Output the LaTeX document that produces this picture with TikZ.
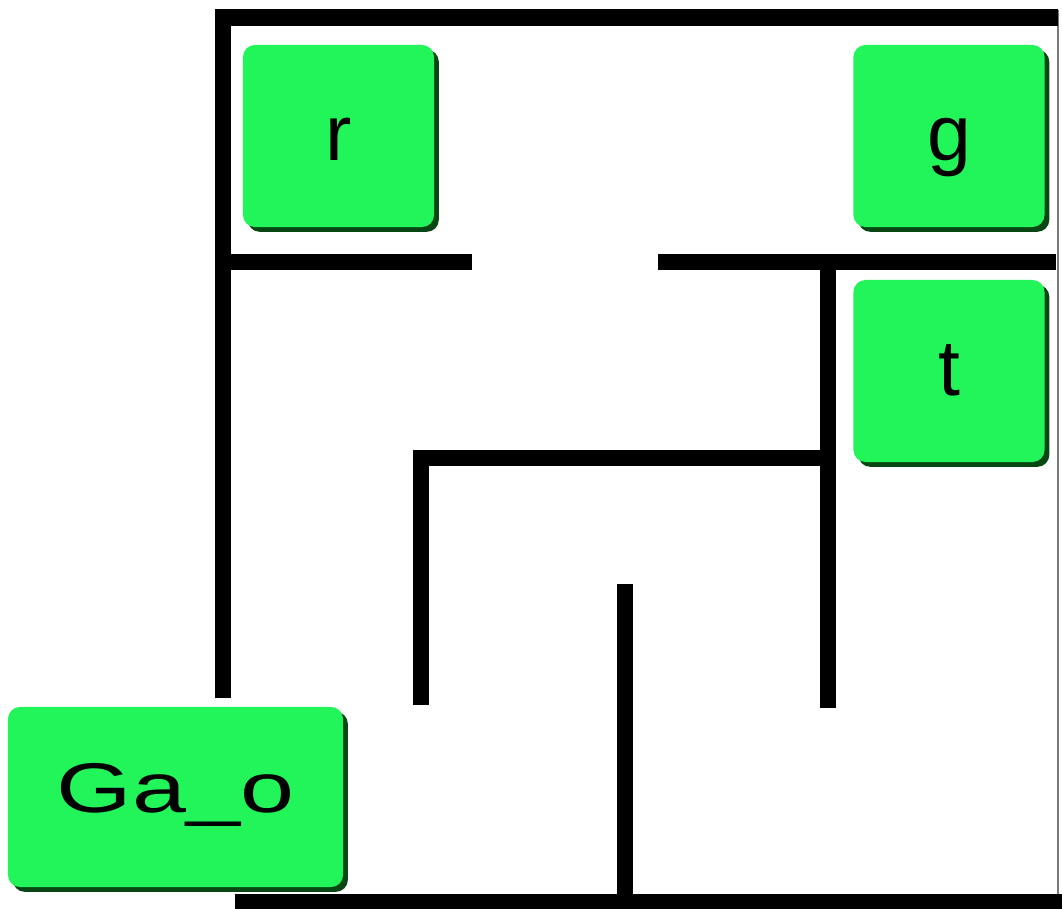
\documentclass[tikz,border=0pt]{standalone}
\usepackage{fontspec}
\setmainfont{Liberation Sans}
\usepackage{xcolor}
\usetikzlibrary{shadows}
\definecolor{boxgreen}{RGB}{34,245,90}
\definecolor{boxshadow}{RGB}{8,70,20}
\definecolor{edgegray}{RGB}{120,120,120}

\tikzset{
  wall/.style={line width=0.4cm, line join=miter, line cap=butt},
  room/.style={draw=none, fill=boxgreen, rounded corners=0.3cm, inner sep=0pt,
               minimum width=4.775cm, minimum height=4.55cm,
               text height=1.2cm, text depth=0pt,
               drop shadow={shadow xshift=0.12cm, shadow yshift=-0.12cm, fill=boxshadow, opacity=1},
               font=\fontsize{56}{60}\selectfont}
}

\begin{document}
\begin{tikzpicture}[x=0.025cm, y=-0.025cm]
  \useasboundingbox[fill=white] (0,0) rectangle (1062,908);

  % outer walls
  \draw[edgegray, line width=0.05cm] (1058,10) -- (1058,908);
  \draw[wall] (223,698) -- (223,17.5) -- (1058,17.5);
  \draw[wall] (235,901.5) -- (1062,901.5);

  % inner walls
  \draw[wall] (215,262) -- (472,262);
  \draw[wall] (658,262) -- (1056,262);
  \draw[wall] (827.5,262) -- (827.5,708);
  \draw[wall] (420.5,705) -- (420.5,457.5) -- (835,457.5);
  \draw[wall] (624.5,584) -- (624.5,895);

  % rooms
  \node[room] (r) at (338.5,136) {r};
  \node[room] (g) at (949,136) {g};
  \node[room] (t) at (949,371) {t};
  \node[room, minimum width=8.375cm, minimum height=4.5cm, text height=0.75cm,
        font=\fontsize{50}{54}\selectfont] (gao) at (175.5,797) {\scalebox{1.38}[1]{Ga\_o}};
\end{tikzpicture}
\end{document}
